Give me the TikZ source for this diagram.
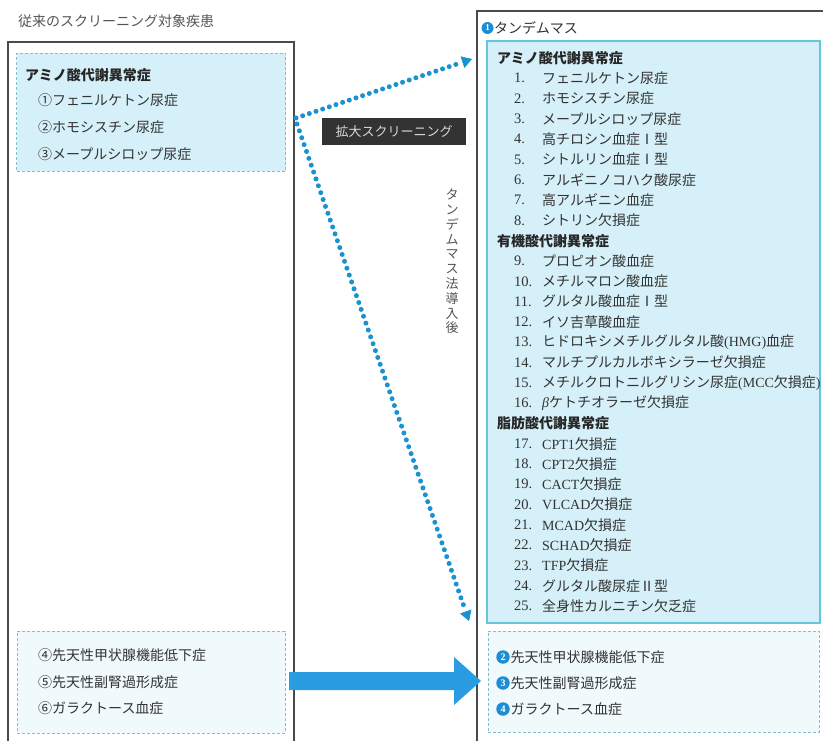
\documentclass[tikz,border=0pt]{standalone}
\usepackage{fontspec}
\setmainfont{Noto Sans CJK JP}
\newfontfamily\tnr{Liberation Serif}
\usetikzlibrary{arrows.meta,calc}
\definecolor{txtc}{HTML}{333333}
\definecolor{graytxt}{HTML}{555555}
\definecolor{framec}{HTML}{4A4A4A}
\definecolor{cyanfill}{HTML}{D5F0F9}
\definecolor{palefill}{HTML}{F0F9FC}
\definecolor{cyanline}{HTML}{66C6DC}
\definecolor{dashc}{HTML}{7FBFCF}
\definecolor{dotblue}{HTML}{1A92D2}
\definecolor{bigblue}{HTML}{2A9DE2}
\definecolor{numblue}{HTML}{1E8ED2}
\definecolor{labelbg}{HTML}{333333}
\begin{document}
\begin{tikzpicture}[x=1pt,y=-1pt,
  txt/.style={anchor=west, inner sep=0pt, text=txtc, font=\fontsize{14}{16}\selectfont},
  hdr/.style={anchor=west, inner sep=0pt, text=black!85, font=\fontsize{14}{16}\selectfont\bfseries},
  num/.style={anchor=west, inner sep=0pt, text=txtc, font=\fontsize{14.5}{16}\selectfont\tnr},
  boxc/.style={anchor=north west, inner sep=0pt, outer sep=0pt},
  frame/.style={draw=framec, line width=1.3pt},
  arrtip/.style={draw=dotblue, fill=dotblue, line width=0.6pt, -{Triangle[length=10pt,width=12pt]}},
  dotc/.style={fill=dotblue},
  cnum/.style={circle, fill=numblue, inner sep=0pt, minimum size=12pt, text=white,
     font=\fontsize{9}{9}\selectfont\bfseries\tnr}
]
\useasboundingbox (0,0) rectangle (823,741);
\fill[white] (0,0) rectangle (823,741);

% outer frames
\draw[frame] (8,741) -- (8,42) -- (294,42) -- (294,741);
\draw[frame] (477,741) -- (477,11) -- (823,11);

% title
\node[txt, text=graytxt] (title) at (18,21) {従来のスクリーニング対象疾患};

% left boxes
\node[boxc, draw=dashc, densely dashed, line width=0.8pt, fill=cyanfill,
      minimum width=269pt, minimum height=118pt] (ltop) at (16.5,53.5) {};
\node[boxc, draw=dashc, densely dashed, line width=0.8pt, fill=palefill,
      minimum width=268pt, minimum height=102pt] (lbot) at (17,631) {};

\node[hdr] (lh) at (25,75) {アミノ酸代謝異常症};
\node[txt] (l1) at (38,100) {①フェニルケトン尿症};
\node[txt] (l2) at (38,127) {②ホモシスチン尿症};
\node[txt] (l3) at (38,154) {③メープルシロップ尿症};

\node[txt] (l4) at (38,655) {④先天性甲状腺機能低下症};
\node[txt] (l5) at (38,682) {⑤先天性副腎過形成症};
\node[txt] (l6) at (38,708) {⑥ガラクトース血症};

% right boxes
\node[boxc, draw=cyanline, line width=1.2pt, fill=cyanfill,
      minimum width=333pt, minimum height=582pt] (rtop) at (487,41) {};
\node[boxc, draw=dashc, densely dashed, line width=0.8pt, fill=palefill,
      minimum width=331pt, minimum height=101pt] (rbot) at (488,631) {};

\node[cnum] (c1) at (487.5,28) {1};
\node[txt] (rt) at (494,28) {タンデムマス};

% right list
\node[hdr] (h1) at (497,58) {アミノ酸代謝異常症};
\node[hdr] (h2) at (497,{58+20.3*9}) {有機酸代謝異常症};
\node[hdr] (h3) at (497,{58+20.3*18}) {脂肪酸代謝異常症};
\foreach \n/\k/\t in {
  1/1/{フェニルケトン尿症},
  2/2/{ホモシスチン尿症},
  3/3/{メープルシロップ尿症},
  4/4/{高チロシン血症Ⅰ型},
  5/5/{シトルリン血症Ⅰ型},
  6/6/{アルギニノコハク酸尿症},
  7/7/{高アルギニン血症},
  8/8/{シトリン欠損症},
  9/10/{プロピオン酸血症},
  10/11/{メチルマロン酸血症},
  11/12/{グルタル酸血症Ⅰ型},
  12/13/{イソ吉草酸血症},
  13/14/{ヒドロキシメチルグルタル酸{\tnr (HMG)}血症},
  14/15/{マルチプルカルボキシラーゼ欠損症},
  15/16/{メチルクロトニルグリシン尿症{\tnr (MCC}欠損症{\tnr )}},
  16/17/{{\tnr\itshape β}ケトチオラーゼ欠損症},
  17/19/{{\tnr CPT1}欠損症},
  18/20/{{\tnr CPT2}欠損症},
  19/21/{{\tnr CACT}欠損症},
  20/22/{{\tnr VLCAD}欠損症},
  21/23/{{\tnr MCAD}欠損症},
  22/24/{{\tnr SCHAD}欠損症},
  23/25/{{\tnr TFP}欠損症},
  24/26/{グルタル酸尿症Ⅱ型},
  25/27/{全身性カルニチン欠乏症}}
{
  \node[num] (n\n) at (514,{58+20.3*\k}) {\n.};
  \node[txt] (r\n) at (542,{58+20.3*\k}) {\t};
}

% right bottom list
\node[cnum, minimum size=13.5pt, font=\fontsize{10}{10}\selectfont\bfseries\tnr] (c2) at (503,657) {2};
\node[txt] (b2) at (510.5,657) {先天性甲状腺機能低下症};
\node[cnum, minimum size=13.5pt, font=\fontsize{10}{10}\selectfont\bfseries\tnr] (c3) at (503,683) {3};
\node[txt] (b3) at (510.5,683) {先天性副腎過形成症};
\node[cnum, minimum size=13.5pt, font=\fontsize{10}{10}\selectfont\bfseries\tnr] (c4) at (503,709) {4};
\node[txt] (b4) at (510.5,709) {ガラクトース血症};

% label
\node[fill=labelbg, text=white!85!black, minimum width=144pt, minimum height=27pt, inner sep=0pt,
      font=\fontsize{13}{13}\selectfont] (lab) at (394,132) {拡大スクリーニング};

% vertical text
\node[anchor=north, inner sep=0pt, align=center, text=graytxt,
      font=\fontsize{13}{14.8}\selectfont] (vt) at (452,189)
  {タ\\ン\\デ\\ム\\マ\\ス\\法\\導\\入\\後};

% dotted arrows
\coordinate (src) at (296,118);
\coordinate (tipA) at (472,59);
\coordinate (srcB) at (297,124);
\coordinate (tipB) at (469,621);
\coordinate (endA) at ($(tipA)!10pt!(src)$);
\coordinate (endB) at ($(tipB)!10pt!(srcB)$);
\foreach \i in {0,...,24}
  \fill[dotc] ($(src)!{\i/25}!(endA)$) circle (2.5pt);
\foreach \i in {0,...,70}
  \fill[dotc] ($(srcB)!{\i/71}!(endB)$) circle (2.5pt);
\draw[arrtip] (endA) -- (tipA);
\draw[arrtip] (endB) -- (tipB);

% big arrow
\fill[bigblue] (289,672) -- (454,672) -- (454,657) -- (481,681) -- (454,705) -- (454,690) -- (289,690) -- cycle;
\end{tikzpicture}
\end{document}
